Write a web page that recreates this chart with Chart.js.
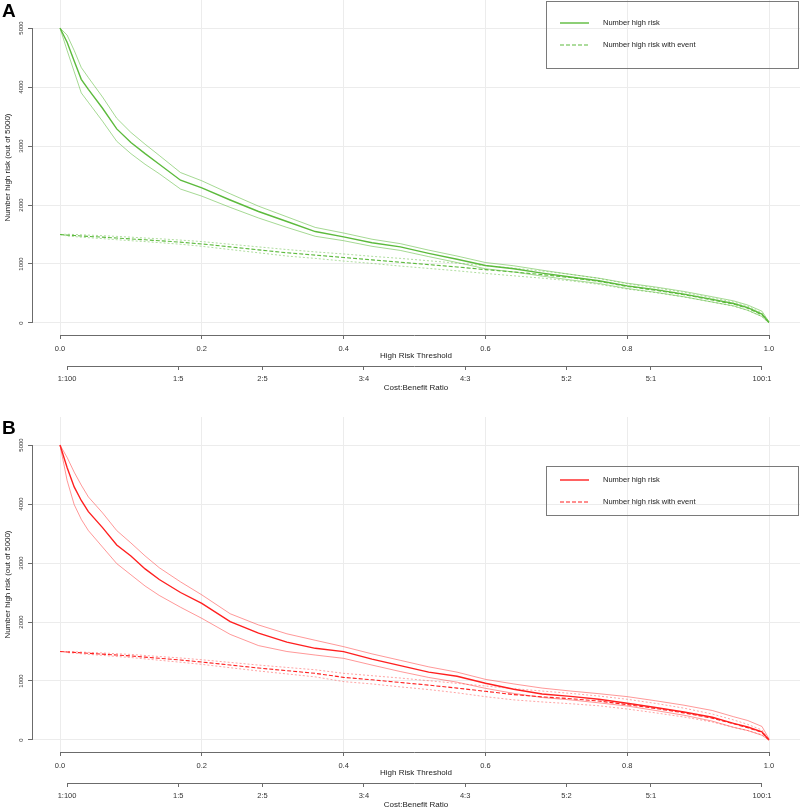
<!DOCTYPE html>
<html>
<head>
<meta charset="utf-8">
<script src="https://cdn.jsdelivr.net/npm/chart.js@4.4.1/dist/chart.umd.min.js"></script>
<style>
  html, body { margin: 0; padding: 0; background: #fff; }
  canvas { display: block; }
</style>
</head>
<body>
<canvas id="chartA" width="800" height="417"></canvas>
<canvas id="chartB" width="800" height="393"></canvas>
<script>
/* clinical impact curves, panel A (green) and B (red) */

const thresholds = [0, 0.01, 0.02, 0.03, 0.04, 0.06, 0.08, 0.10, 0.12, 0.14, 0.17, 0.20, 0.24, 0.28, 0.32, 0.36, 0.40,
    0.44, 0.48, 0.52, 0.56, 0.60, 0.64, 0.68, 0.72, 0.76, 0.80, 0.84, 0.88, 0.92, 0.95, 0.97, 0.99, 1.00];

const yTicks = [0, 1000, 2000, 3000, 4000, 5000];
const xTicks = [0, 0.2, 0.4, 0.6, 0.8, 1.0];
const ratioLabels = ['1:100', '1:5', '2:5', '3:4', '4:3', '5:2', '5:1', '100:1'];
const seriesNames = ['Number high risk', 'Number high risk with event'];

// panel A
const aHighRisk = [5000, 4760, 4440, 4130, 3960, 3640, 3290, 3060, 2870, 2690, 2420, 2290, 2085, 1890, 1720, 1550, 1460,
    1360, 1290, 1180, 1080, 975, 920, 845, 780, 715, 630, 565, 490, 400, 330, 260, 150, 10];
const aHighRiskUpper = [5000, 4880, 4620, 4330, 4160, 3830, 3470, 3230, 3030, 2840, 2550, 2410, 2190, 1980, 1800, 1620, 1525,
    1420, 1345, 1235, 1135, 1025, 970, 895, 825, 760, 675, 610, 535, 445, 375, 305, 200, 20];
const aHighRiskLower = [5000, 4620, 4260, 3900, 3740, 3420, 3080, 2870, 2690, 2530, 2270, 2150, 1960, 1780, 1620, 1470, 1395,
    1300, 1230, 1125, 1025, 920, 865, 795, 730, 670, 585, 520, 445, 355, 290, 215, 110, 0];
const aEvent = [1500, 1490, 1482, 1475, 1468, 1455, 1440, 1425, 1410, 1395, 1370, 1340, 1290, 1240, 1190, 1150, 1110,
    1070, 1030, 990, 950, 905, 865, 820, 770, 705, 620, 555, 480, 390, 320, 250, 140, 5];
const aEventUpper = [1500, 1505, 1500, 1495, 1490, 1480, 1468, 1455, 1440, 1428, 1405, 1380, 1335, 1290, 1245, 1205, 1170,
    1130, 1095, 1055, 1015, 970, 930, 880, 825, 755, 665, 595, 520, 425, 355, 285, 170, 15];
const aEventLower = [1500, 1475, 1465, 1455, 1446, 1430, 1412, 1395, 1380, 1362, 1335, 1300, 1245, 1190, 1135, 1095, 1050,
    1010, 965, 925, 885, 840, 800, 760, 715, 655, 575, 515, 440, 355, 285, 215, 110, 0];

// panel B
const bHighRisk = [5000, 4620, 4290, 4060, 3870, 3600, 3305, 3120, 2900, 2720, 2500, 2317, 2005, 1810, 1660, 1554, 1497,
    1370, 1260, 1150, 1080, 961, 860, 780, 740, 690, 622, 550, 475, 385, 283, 220, 140, 0];
const bHighRiskUpper = [5000, 4790, 4540, 4320, 4120, 3850, 3550, 3340, 3120, 2920, 2680, 2460, 2140, 1950, 1800, 1690, 1582,
    1460, 1350, 1240, 1150, 1028, 950, 880, 830, 785, 735, 665, 590, 500, 395, 330, 230, 20];
const bHighRiskLower = [5000, 4400, 3990, 3740, 3550, 3270, 2990, 2800, 2610, 2450, 2250, 2062, 1790, 1600, 1500, 1440, 1384,
    1270, 1160, 1060, 980, 876, 790, 720, 680, 630, 576, 500, 420, 320, 215, 160, 80, 0];
const bEvent = [1500, 1492, 1485, 1478, 1470, 1455, 1440, 1425, 1405, 1385, 1355, 1322, 1270, 1220, 1175, 1130, 1062,
    1020, 975, 930, 880, 825, 770, 730, 700, 660, 600, 535, 460, 370, 275, 210, 130, 0];
const bEventUpper = [1500, 1500, 1495, 1490, 1485, 1475, 1462, 1450, 1432, 1415, 1390, 1360, 1315, 1270, 1230, 1190, 1130,
    1090, 1050, 1005, 960, 915, 870, 830, 790, 745, 690, 620, 540, 440, 340, 265, 170, 10];
const bEventLower = [1500, 1482, 1472, 1462, 1452, 1435, 1415, 1398, 1375, 1352, 1318, 1282, 1225, 1170, 1120, 1070, 990,
    950, 900, 855, 800, 734, 680, 645, 615, 580, 525, 460, 390, 305, 215, 160, 90, 0];

const FONT = "'Liberation Sans', Arial, sans-serif";
const AXIS = '#6b6b6b';
const GRID = '#ececec';

// cost:benefit a:b  ->  threshold a/(a+b)
const ratioPositions = ratioLabels.map(l => {
    const [a, b] = l.split(':').map(Number);
    return a / (a + b);
});

const pts = arr => thresholds.map((t, i) => ({ x: t, y: arr[i] }));

// R-style axes: lines only between first and last tick, rotated y labels, panel letter
const rAxes = {
    id: 'rAxes',
    afterDraw(chart, args, o) {
        const { ctx, chartArea } = chart;
        const { x, x2, y } = chart.scales;
        ctx.save();
        ctx.strokeStyle = AXIS;
        ctx.lineWidth = 1;
        ctx.beginPath();
        const lx = Math.round(chartArea.left) + 0.5;
        ctx.moveTo(lx, y.getPixelForValue(yTicks[0]));
        ctx.lineTo(lx, y.getPixelForValue(yTicks[yTicks.length - 1]));
        const by = Math.round(x.top) + 0.5;
        ctx.moveTo(x.getPixelForValue(xTicks[0]), by);
        ctx.lineTo(x.getPixelForValue(xTicks[xTicks.length - 1]), by);
        const cy = Math.round(x2.top) + 0.5;
        ctx.moveTo(x2.getPixelForValue(ratioPositions[0]), cy);
        ctx.lineTo(x2.getPixelForValue(ratioPositions[ratioPositions.length - 1]), cy);
        ctx.stroke();

        ctx.fillStyle = '#333';
        ctx.font = `6px ${FONT}`;
        ctx.textAlign = 'center';
        ctx.textBaseline = 'middle';
        yTicks.forEach(v => {
            ctx.save();
            ctx.translate(21, y.getPixelForValue(v));
            ctx.rotate(-Math.PI / 2);
            ctx.fillText(String(v), 0, 0);
            ctx.restore();
        });

        ctx.fillStyle = '#000';
        ctx.font = `bold 19px ${FONT}`;
        ctx.textAlign = 'left';
        ctx.textBaseline = 'top';
        ctx.fillText(o.letter, 2, 2);
        ctx.restore();
    }
};

// boxed legend in the top right corner
const boxLegend = {
    id: 'boxLegend',
    afterDraw(chart, args, o) {
        const { ctx } = chart;
        const items = chart.data.datasets.filter(d => d.label);
        ctx.save();
        ctx.strokeStyle = '#7a7a7a';
        ctx.lineWidth = 1;
        ctx.strokeRect(o.x + 0.5, o.y + 0.5, o.w, o.h);
        items.forEach((d, i) => {
            const ly = o.y + o.first + i * o.gap;
            ctx.strokeStyle = d.borderColor;
            ctx.lineWidth = d.borderWidth;
            ctx.setLineDash(d.borderDash || []);
            ctx.beginPath();
            ctx.moveTo(o.x + 14, ly);
            ctx.lineTo(o.x + 43, ly);
            ctx.stroke();
            ctx.setLineDash([]);
            ctx.fillStyle = '#222';
            ctx.font = `7.5px ${FONT}`;
            ctx.textBaseline = 'middle';
            ctx.fillText(d.label, o.x + 57, ly);
        });
        ctx.restore();
    }
};

const charts = {
    init() {
        this.renderPanel('chartA', 'A', '#5cba3c', 'rgba(92,186,60,0.62)',
            [aHighRisk, aHighRiskUpper, aHighRiskLower, aEvent, aEventUpper, aEventLower],
            { x: 546, y: 1, w: 252, h: 67, first: 22, gap: 22 }, 24);
        this.renderPanel('chartB', 'B', '#ff1f1f', 'rgba(255,45,45,0.55)',
            [bHighRisk, bHighRiskUpper, bHighRiskLower, bEvent, bEventUpper, bEventLower],
            { x: 546, y: 49, w: 252, h: 49, first: 14, gap: 22 }, 0);
    },

    renderPanel(id, letter, color, light, s, legendPos, padBottom) {
        const [main, up, lo, ev, evUp, evLo] = s;
        const line = (data, c, w, dash, label) => ({
            label, data: pts(data), borderColor: c, borderWidth: w, borderDash: dash,
            pointRadius: 0, tension: 0, fill: false
        });

        new Chart(document.getElementById(id), {
            type: 'line',
            data: {
                datasets: [
                    line(up, light, 0.9, [], ''),
                    line(lo, light, 0.9, [], ''),
                    line(evUp, light, 0.8, [2, 2], ''),
                    line(evLo, light, 0.8, [2, 2], ''),
                    line(main, color, 1.4, [], seriesNames[0]),
                    line(ev, color, 1.1, [4, 2], seriesNames[1])
                ]
            },
            options: {
                responsive: false,
                animation: false,
                layout: { padding: { left: 0, right: 0, top: 0, bottom: padBottom } },
                plugins: {
                    legend: { display: false },
                    tooltip: { enabled: false },
                    rAxes: { letter },
                    boxLegend: legendPos
                },
                scales: {
                    x: {
                        type: 'linear',
                        min: -0.0395, max: 1.0437,
                        afterBuildTicks: sc => { sc.ticks = xTicks.map(v => ({ value: v })); },
                        afterFit: sc => { sc.height = 31; },
                        grid: { color: GRID, tickColor: AXIS, tickLength: 4 },
                        border: { display: false },
                        ticks: {
                            autoSkip: false, maxRotation: 0, padding: 5, color: '#333',
                            font: { family: FONT, size: 7.5 },
                            callback: v => v.toFixed(1)
                        },
                        title: {
                            display: true, text: 'High Risk Threshold', color: '#222',
                            font: { family: FONT, size: 8 }, padding: { top: 0, bottom: 5 }
                        }
                    },
                    x2: {
                        type: 'linear', axis: 'x', position: 'bottom', weight: 1,
                        min: -0.0395, max: 1.0437,
                        afterBuildTicks: sc => { sc.ticks = ratioPositions.map(v => ({ value: v })); },
                        afterFit: sc => { sc.height = 27; },
                        grid: { drawOnChartArea: false, tickColor: AXIS, tickLength: 4 },
                        border: { display: false },
                        ticks: {
                            autoSkip: false, maxRotation: 0, padding: 4, color: '#333',
                            font: { family: FONT, size: 7.5 },
                            callback: (v, i) => ratioLabels[i]
                        },
                        title: {
                            display: true, text: 'Cost:Benefit Ratio', color: '#222',
                            font: { family: FONT, size: 8 }, padding: { top: 0, bottom: 0 }
                        }
                    },
                    y: {
                        type: 'linear',
                        min: -203.4, max: 5474.6,
                        afterBuildTicks: sc => { sc.ticks = yTicks.map(v => ({ value: v })); },
                        afterFit: sc => { sc.width = 32; },
                        grid: { color: GRID, tickColor: AXIS, tickLength: 4 },
                        border: { display: false },
                        ticks: { display: false },
                        title: {
                            display: true, text: 'Number high risk (out of 5000)', color: '#222',
                            font: { family: FONT, size: 8 }, padding: { top: 3, bottom: 0 }
                        }
                    }
                }
            },
            plugins: [rAxes, boxLegend]
        });
    }
};

charts.init();
</script>
</body>
</html>
